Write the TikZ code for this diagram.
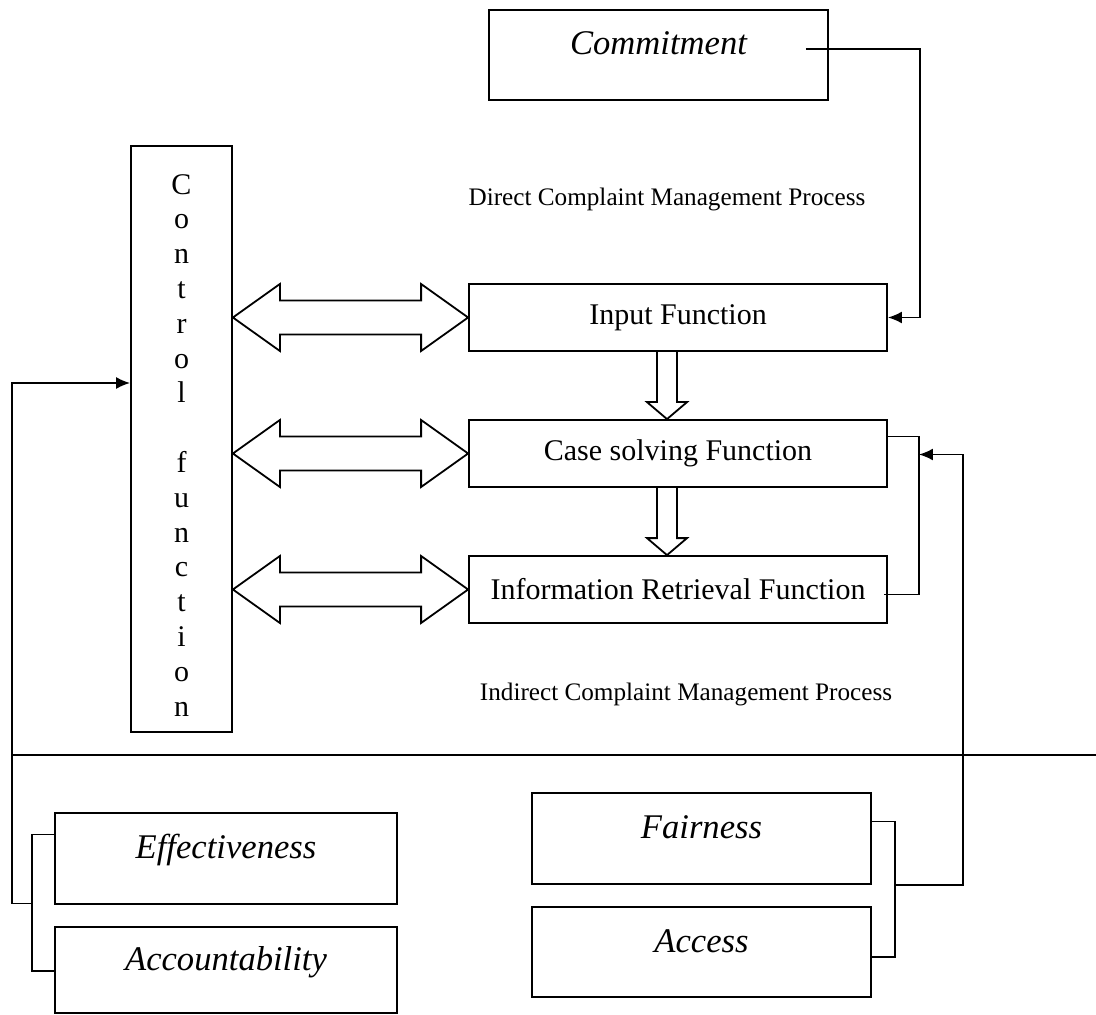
\documentclass[tikz,border=0pt]{standalone}
\usepackage{fontspec}
\setmainfont{Liberation Serif}
\usepackage{tikz}
\usetikzlibrary{calc, arrows.meta}
\tikzstyle{funcbox} = [rectangle, minimum width=209pt, minimum height=33.5pt, text centered, draw=black, line width=0.9pt, font=\fontsize{15}{18}\selectfont]
\tikzstyle{valuebox} = [rectangle, minimum width=170pt, minimum height=45pt, text height=12pt, text depth=12pt, text centered, draw=black, line width=0.9pt, font=\itshape\fontsize{17.3}{20}\selectfont]
\tikzstyle{ctrlbox} = [rectangle, minimum width=50.5pt, minimum height=293pt, align=center, draw=black, line width=0.9pt, font=\fontsize{15}{17.4}\selectfont]
\tikzstyle{proclabel} = [font=\fontsize{12.6}{15}\selectfont]
\tikzstyle{arrow} = [->,>={Latex[length=7pt,width=6pt]}, line width=0.9pt]
\tikzstyle{link} = [line width=0.9pt]
\tikzstyle{hollow} = [line width=0.9pt, line join=miter]

% 空心双向箭头：#1 左尖, #2 右尖
\newcommand{\twowayarrow}[2]{%
  \draw[hollow] (#1) -- ($(#1)+(47,-33.5)$) -- ($(#1)+(47,-17)$) -- ($(#2)+(-47,-17)$) -- ($(#2)+(-47,-33.5)$) -- (#2) -- ($(#2)+(-47,33.5)$) -- ($(#2)+(-47,17)$) -- ($(#1)+(47,17)$) -- ($(#1)+(47,33.5)$) -- cycle;}
% 空心向下箭头：#1 起点, #2 箭尖
\newcommand{\hollowdown}[2]{%
  \draw[hollow] ($(#1)+(-10,0)$) -- ($(#2)+(-10,-17)$) -- ($(#2)+(-20,-17)$) -- (#2) -- ($(#2)+(20,-17)$) -- ($(#2)+(10,-17)$) -- ($(#1)+(10,0)$);}

\begin{document}
\begin{tikzpicture}[x=0.5pt, y=-0.5pt, node distance=68pt]
\useasboundingbox (0,0) rectangle (1096,1015);
%上半部分：处理过程
\node[valuebox, minimum width=169.5pt](commit) at (658.5,55){Commitment};
\node[ctrlbox](ctrl) at (181.5,439){\rule{0pt}{16pt}C\\o\\n\\t\\r\\o\\l\\[17.4pt]f\\u\\n\\c\\t\\i\\o\\n};
\node[funcbox](input) at (678,317.5){Input Function};
\node[funcbox, below of = input](case){Case solving Function};
\node[funcbox, below of = case](info){Information Retrieval Function};
\node[proclabel](direct) at (667,199){Direct Complaint Management Process};
\node[proclabel](indirect) at (686,694){Indirect Complaint Management Process};
%下半部分：原则
\node[valuebox, minimum width=171pt, minimum height=45.5pt](eff) at (226,858.5){Effectiveness};
\node[valuebox, minimum width=171pt, minimum height=43pt, node distance=55.75pt, below of = eff](acct){Accountability};
\node[valuebox, minimum width=169.5pt, minimum height=45.5pt](fair) at (701.5,838.5){Fairness};
\node[valuebox, minimum width=169.5pt, node distance=56.75pt, below of = fair](acc){Access};
%分隔线
\coordinate (sepL) at (13,755);
\coordinate (sepR) at (1096,755);
\draw[line width=1.1pt] (sepL) -- (sepR);
%双向箭头
\coordinate (t1) at (ctrl.east |- input.west);
\coordinate (t2) at (ctrl.east |- case.west);
\coordinate (t3) at (ctrl.east |- info.west);
\twowayarrow{t1}{input.west}
\twowayarrow{t2}{case.west}
\twowayarrow{t3}{info.west}
%向下箭头
\coordinate (d1) at ($(input.south)+(-11,0)$);
\coordinate (d1t) at ($(case.north)+(-11,0)$);
\coordinate (d2) at ($(case.south)+(-11,0)$);
\coordinate (d2t) at ($(info.north)+(-11,0)$);
\hollowdown{d1}{d1t}
\hollowdown{d2}{d2t}
%连接线
\coordinate (cstart) at ($(commit.east)+(-23,-6)$);
\coordinate (cturn) at ($(commit.east)+(91,-6)$);
\draw [arrow] (cstart) -- (cturn) |- (input.east);
\coordinate (cs) at ($(case.east)+(0,-17)$);
\coordinate (rtop) at ($(case.east)+(31,-17)$);
\coordinate (ie) at ($(info.east)+(-4,5)$);
\coordinate (rin) at ($(rtop)+(0,18)$);
\draw [link] (cs) -- (rtop) |- (ie);
\coordinate (f1) at ($(fair.east)+(0,-17)$);
\coordinate (a2) at ($(acc.east)+(23,5)$);
\coordinate (a1) at ($(acc.east)+(0,5)$);
\coordinate (rjoin) at ($(fair.east)+(23,46.5)$);
\draw [link] (f1) -| (a2) -- (a1);
\draw [arrow] (rjoin) -- ++(68,0) |- (rin);
\coordinate (e1) at ($(eff.west)+(0,-24)$);
\coordinate (b2) at ($(acct.west)+(-22,1)$);
\coordinate (b1) at ($(acct.west)+(0,1)$);
\coordinate (ljoin) at ($(eff.west)+(-22,45)$);
\coordinate (lin) at ($(ctrl.west)+(0,-56)$);
\draw [link] (e1) -| (b2) -- (b1);
\draw [arrow] (ljoin) -- ++(-20,0) |- (lin);
\end{tikzpicture}
\end{document}
